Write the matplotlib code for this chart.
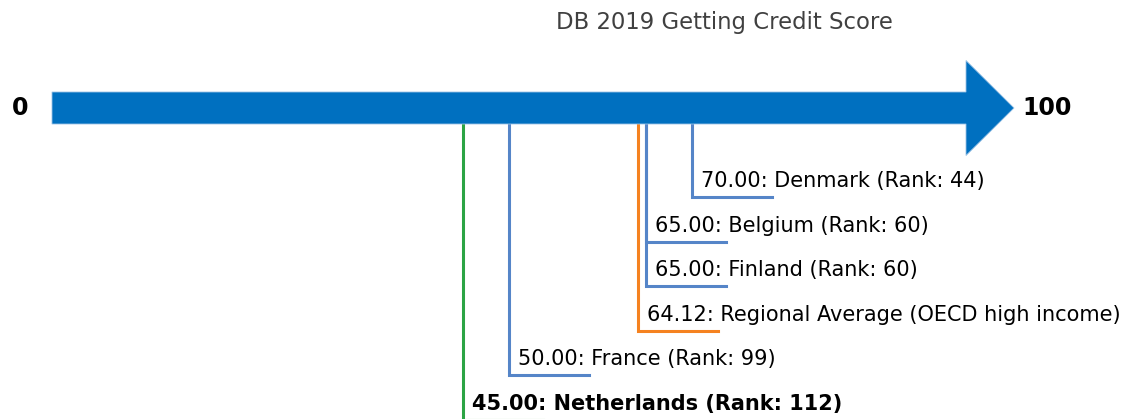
import matplotlib
matplotlib.use("Agg")
import matplotlib.pyplot as plt
from matplotlib.patches import Polygon

plt.rcParams["font.family"] = ["DejaVu Sans"]

title = "DB 2019 Getting Credit Score"
names = ["Denmark (Rank: 44)", "Belgium (Rank: 60)", "Finland (Rank: 60)",
         "Regional Average (OECD high income)", "France (Rank: 99)",
         "Netherlands (Rank: 112)"]
scores = [70.00, 65.00, 65.00, 64.12, 50.00, 45.00]
kinds = ["peer", "peer", "peer", "region", "peer", "self"]
axis_min, axis_max = 0, 100

colors = {"peer": "#5585C8", "region": "#F58220", "self": "#2CA444"}

W, H, DPI = 1122, 419, 100
fig = plt.figure(figsize=(W / DPI, H / DPI), dpi=DPI)
ax = fig.add_axes([0, 0, 1, 1])
ax.set_axis_off()

ppu = 9.14  # pixels per score unit
x0px = 52
ax.set_xlim(-x0px / ppu, (W - x0px) / ppu)
ax.set_ylim(H, 0)

# arrow
bar_top, bar_bot, yc = 92, 124, 108
head_half = 47.5
head_len = 48 / ppu
poly = Polygon([(axis_min, bar_top), (axis_max, bar_top), (axis_max, yc - head_half),
                (axis_max + head_len, yc), (axis_max, yc + head_half),
                (axis_max, bar_bot), (axis_min, bar_bot)],
               closed=True, facecolor="#0070C0", edgecolor="#9CC3E6", linewidth=0.6, zorder=3)
ax.add_patch(poly)

ax.text(axis_min - 24 / ppu, yc, f"{axis_min}", ha="right", va="center",
        fontsize=17, fontweight="bold", color="black")
ax.text(axis_max + head_len + 8 / ppu, yc, f"{axis_max}", ha="left", va="center",
        fontsize=17, fontweight="bold", color="black")

ax.text(724 / ppu - x0px / ppu, 23, title, ha="center", va="center",
        fontsize=16.4, color="#404040")

row0, step = 197, 44.5
seg = 80 / ppu
for i, (n, s, k) in enumerate(zip(names, scores, kinds)):
    y = row0 + i * step
    c = colors[k]
    ax.plot([s, s, s + seg], [bar_bot, y, y], color=c, linewidth=2.2,
            solid_joinstyle="miter", zorder=2)
    ax.text(s + 9 / ppu, y - 6, f"{s:.2f}: {n}", ha="left", va="bottom",
            fontsize=15, color="black",
            fontweight="bold" if k == "self" else "normal")

fig.savefig("out.png", dpi=DPI)
